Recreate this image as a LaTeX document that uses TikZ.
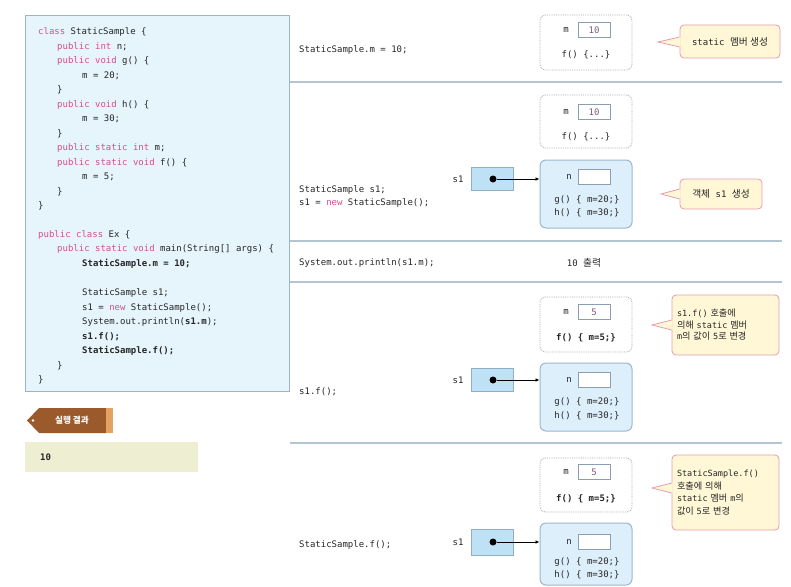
\documentclass[tikz,border=0pt]{standalone}
\usepackage{fontspec}
\setmonofont{DejaVu Sans Mono}
\newfontfamily\kr[Scale=1.08]{Noto Sans CJK KR}
\usetikzlibrary{arrows.meta}

\definecolor{codebg}{HTML}{E6F4FC}
\definecolor{codeline}{HTML}{9CB4C6}
\definecolor{codetext}{HTML}{262626}
\definecolor{kwpink}{HTML}{D2508E}
\definecolor{sepline}{HTML}{B3C5D2}
\definecolor{staticline}{HTML}{A8A8A8}
\definecolor{objfill}{HTML}{DDEFFB}
\definecolor{objline}{HTML}{9BB7CC}
\definecolor{reffill}{HTML}{BFE1F6}
\definecolor{refline}{HTML}{8FAFC6}
\definecolor{valline}{HTML}{8C9FB0}
\definecolor{valtext}{HTML}{7A5A86}
\definecolor{callfill}{HTML}{FFF7D6}
\definecolor{callline}{HTML}{E59CB0}
\definecolor{tagbrown}{HTML}{9A5A2C}
\definecolor{tagorange}{HTML}{E3A25E}
\definecolor{outbg}{HTML}{EEEFD2}

\newcommand\kw[1]{\textcolor{kwpink}{#1}}
\newcommand\codefont{\ttfamily\fontsize{9}{11}\selectfont}
\newcommand\memfont{\ttfamily\fontsize{9}{10}\selectfont}
\newcommand\callfontA{\ttfamily\fontsize{8.5}{11.5}\selectfont}
\newcommand\callfontB{\ttfamily\fontsize{8.5}{12.5}\selectfont}
\newcommand\memboldfont{\ttfamily\bfseries\fontsize{9}{10}\selectfont}

\begin{document}
\begin{tikzpicture}[x=1pt,y=-1pt,
  code/.style={anchor=west, inner sep=0pt, font=\codefont, text=codetext},
  mem/.style={inner sep=0pt, font=\memfont, text=codetext},
  staticbox/.style={draw=staticline, densely dotted, line width=0.8pt, rounded corners=5pt, fill=white, minimum width=92pt, inner sep=0pt},
  objbox/.style={draw=objline, line width=1pt, rounded corners=6pt, fill=objfill, minimum width=92pt, inner sep=0pt},
  valbox/.style={draw=valline, line width=0.7pt, fill=white, minimum width=32pt, minimum height=15pt, inner sep=0pt, font=\memfont, text=valtext},
  refbox/.style={draw=refline, line width=0.7pt, fill=reffill, minimum width=42pt, minimum height=23pt, inner sep=0pt},
  dotnode/.style={circle, fill=black, minimum size=7pt, inner sep=0pt},
  callbox/.style={draw=callline, line width=0.8pt, rounded corners=4pt, fill=callfill, inner sep=0pt, font=\memfont, text=codetext, align=left},
  wedgefill/.style={fill=callfill},
  wedgeline/.style={draw=callline, line width=0.8pt},
  sep/.style={draw=sepline, line width=1.5pt},
  ptr/.style={-{Latex[length=4pt,width=3.5pt]}, line width=0.7pt}
]
\useasboundingbox (0,0) rectangle (791,586);

% ---------- source listing ----------
\node[draw=codeline, line width=1.2pt, fill=codebg, anchor=north west,
      minimum width=264pt, minimum height=376pt, inner sep=0pt] (listing) at (25,15) {};

\node[code] (l0)  at (38,32)    {\kw{class} StaticSample \{};
\node[code] (l1)  at (57,46.5)  {\kw{public int} n;};
\node[code] (l2)  at (57,61)    {\kw{public void} g() \{};
\node[code] (l3)  at (82,75.5)  {m = 20;};
\node[code] (l4)  at (57,90)    {\}};
\node[code] (l5)  at (57,104.5) {\kw{public void} h() \{};
\node[code] (l6)  at (82,119)   {m = 30;};
\node[code] (l7)  at (57,133.5) {\}};
\node[code] (l8)  at (57,148)   {\kw{public static int} m;};
\node[code] (l9)  at (57,162.5) {\kw{public static void} f() \{};
\node[code] (l10) at (82,177)   {m = 5;};
\node[code] (l11) at (57,191.5) {\}};
\node[code] (l12) at (38,206)   {\}};
\node[code] (l14) at (38,235)   {\kw{public class} Ex \{};
\node[code] (l15) at (57,249.5) {\kw{public static void} main(String[] args) \{};
\node[code] (l16) at (82,264)   {\textbf{StaticSample.m = 10;}};
\node[code] (l18) at (82,293)   {StaticSample s1;};
\node[code] (l19) at (82,307.5) {s1 = \kw{new} StaticSample();};
\node[code] (l20) at (82,322)   {System.out.println(\textbf{s1.m});};
\node[code] (l21) at (82,336.5) {\textbf{s1.f();}};
\node[code] (l22) at (82,351)   {\textbf{StaticSample.f();}};
\node[code] (l23) at (57,365.5) {\}};
\node[code] (l24) at (38,380)   {\}};

% ---------- result tag and output ----------
\fill[tagbrown] (27,420.5) -- (39,408) -- (106,408) -- (106,433) -- (39,433) -- cycle;
\fill[tagorange] (106,408) rectangle (113,433);
\fill[white] (33,420.5) circle (1.4pt);
\node[inner sep=0pt, text=white, font=\kr\bfseries\fontsize{8}{9}\selectfont] (tag) at (72,420.5) {실행 결과};

\node[fill=outbg, anchor=north west, minimum width=173pt, minimum height=30pt, inner sep=0pt] (out) at (25,442) {};
\node[code, font=\memboldfont] (outtext) at (40,457) {10};

% ---------- row separators ----------
\coordinate (sa1) at (290,82);  \coordinate (sb1) at (782,82);
\coordinate (sa2) at (290,241); \coordinate (sb2) at (782,241);
\coordinate (sa3) at (290,282); \coordinate (sb3) at (782,282);
\coordinate (sa4) at (290,443); \coordinate (sb4) at (782,443);
\draw[sep] (sa1) -- (sb1);
\draw[sep] (sa2) -- (sb2);
\draw[sep] (sa3) -- (sb3);
\draw[sep] (sa4) -- (sb4);

% ---------- row 1: StaticSample.m = 10; ----------
\node[code] (r1code) at (299,50) {StaticSample.m = 10;};
\node[staticbox, minimum height=55pt] (s1box) at (586,42.5) {};
\node[mem] (s1m) at (566,30) {m};
\node[valbox] (s1v) at (594,30) {10};
\node[mem] (s1f) at (586,55) {f() \{...\}};
\node[callbox, minimum width=100pt, minimum height=33pt, align=center] (c1) at (730,41.5) {static {\kr 멤버 생성}};
\coordinate (t1) at (658,42);
\coordinate (c1w) at (c1.west |- t1);
\fill[wedgefill] ([yshift=5pt,xshift=1pt]c1w) -- (t1) -- ([yshift=-5pt,xshift=1pt]c1w) -- cycle;
\draw[wedgeline] ([yshift=5pt]c1w) -- (t1) -- ([yshift=-5pt]c1w);

% ---------- row 2: object creation ----------
\node[code] (r2a) at (299,190) {StaticSample s1;};
\node[code] (r2b) at (299,203) {s1 = \kw{new} StaticSample();};
\node[staticbox, minimum height=53pt] (s2box) at (586,121.5) {};
\node[mem] (s2m) at (566,112) {m};
\node[valbox] (s2v) at (594,112) {10};
\node[mem] (s2f) at (586,137) {f() \{...\}};
\node[objbox, minimum height=68pt] (o2) at (586,194) {};
\node[mem] (o2n) at (569,177) {n};
\node[valbox] (o2v) at (594,177) {};
\node[mem] (o2g) at (587,200) {g() \{ m=20;\}};
\node[mem] (o2h) at (587,213) {h() \{ m=30;\}};
\node[mem] (r2lab) at (458,179) {s1};
\node[refbox] (b2) at (492,179) {};
\node[dotnode] (d2) at (493,179) {};
\draw[ptr] (d2) -- (d2 -| o2.west);
\node[callbox, minimum width=82pt, minimum height=30pt, align=center] (c2) at (721,194) {{\kr 객체} s1 {\kr 생성}};
\coordinate (t2) at (661,194);
\coordinate (c2w) at (c2.west |- t2);
\fill[wedgefill] ([yshift=5pt,xshift=1pt]c2w) -- (t2) -- ([yshift=-5pt,xshift=1pt]c2w) -- cycle;
\draw[wedgeline] ([yshift=5pt]c2w) -- (t2) -- ([yshift=-5pt]c2w);

% ---------- row 3: println ----------
\node[code] (r3code) at (299,263) {System.out.println(s1.m);};
\node[mem] (r3out) at (584,263) {10 {\kr 출력}};

% ---------- row 4: s1.f(); ----------
\node[code] (r4code) at (299,392) {s1.f();};
\node[staticbox, minimum height=55pt] (s4box) at (586,324.5) {};
\node[mem] (s4m) at (566,312) {m};
\node[valbox] (s4v) at (594,312) {5};
\node[mem, font=\memboldfont] (s4f) at (586,338) {f() \{ m=5;\}};
\node[objbox, minimum height=68pt] (o4) at (586,397) {};
\node[mem] (o4n) at (569,380) {n};
\node[valbox] (o4v) at (594,380) {};
\node[mem] (o4g) at (587,402) {g() \{ m=20;\}};
\node[mem] (o4h) at (587,416) {h() \{ m=30;\}};
\node[mem] (r4lab) at (458,380) {s1};
\node[refbox] (b4) at (492,380) {};
\node[dotnode] (d4) at (493,380) {};
\draw[ptr] (d4) -- (d4 -| o4.west);
\node[callbox, minimum width=107pt, minimum height=60pt, text width=97pt, font=\callfontA] (c4) at (725.5,325)
  {s1.f() {\kr 호출에}\\{\kr 의해} static {\kr 멤버}\\m{\kr 의 값이} 5{\kr 로 변경}};
\coordinate (t4) at (652,325);
\coordinate (c4w) at (c4.west |- t4);
\fill[wedgefill] ([yshift=5pt,xshift=1pt]c4w) -- (t4) -- ([yshift=-5pt,xshift=1pt]c4w) -- cycle;
\draw[wedgeline] ([yshift=5pt]c4w) -- (t4) -- ([yshift=-5pt]c4w);

% ---------- row 5: StaticSample.f(); ----------
\node[code] (r5code) at (299,545) {StaticSample.f();};
\node[staticbox, minimum height=54pt] (s5box) at (586,485) {};
\node[mem] (s5m) at (566,472) {m};
\node[valbox] (s5v) at (594,472) {5};
\node[mem, font=\memboldfont] (s5f) at (586,499) {f() \{ m=5;\}};
\node[objbox, minimum height=62pt] (o5) at (586,554) {};
\node[mem] (o5n) at (569,542) {n};
\node[valbox] (o5v) at (594,542) {};
\node[mem] (o5g) at (587,562) {g() \{ m=20;\}};
\node[mem] (o5h) at (587,575) {h() \{ m=30;\}};
\node[mem] (r5lab) at (458,542) {s1};
\node[refbox, minimum height=26pt] (b5) at (492,542) {};
\node[dotnode] (d5) at (493,542) {};
\draw[ptr] (d5) -- (d5 -| o5.west);
\node[callbox, minimum width=107pt, minimum height=75pt, text width=97pt, font=\callfontB] (c5) at (725.5,492.5)
  {StaticSample.f()\\{\kr 호출에 의해}\\static {\kr 멤버} m{\kr 의}\\{\kr 값이} 5{\kr 로 변경}};
\coordinate (t5) at (652,488);
\coordinate (c5w) at (c5.west |- t5);
\fill[wedgefill] ([yshift=5pt,xshift=1pt]c5w) -- (t5) -- ([yshift=-5pt,xshift=1pt]c5w) -- cycle;
\draw[wedgeline] ([yshift=5pt]c5w) -- (t5) -- ([yshift=-5pt]c5w);
\end{tikzpicture}
\end{document}
